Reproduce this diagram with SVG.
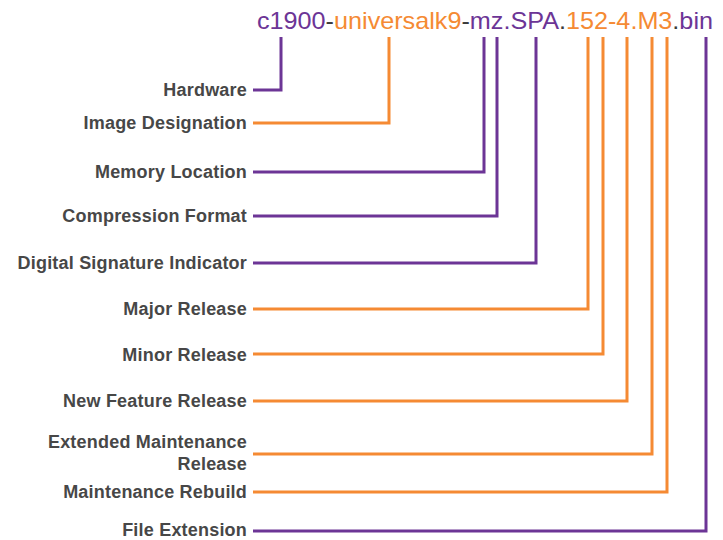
<svg xmlns="http://www.w3.org/2000/svg" width="723" height="540" viewBox="0 0 723 540">
<style>
.lbl{font-family:"Liberation Sans",Arial,sans-serif;font-weight:bold;font-size:18px;letter-spacing:0.2px;fill:#474747;text-anchor:end}
.ttl{font-family:"Liberation Sans",Arial,sans-serif;font-size:24px}
.p{fill:#6c3596}.o{fill:#f58a33}.d{fill:#3a3a3a}
.cp{fill:none;stroke:#6c3596;stroke-width:3}
.co{fill:none;stroke:#f58a33;stroke-width:3}
</style>
<rect width="723" height="540" fill="#ffffff"/>
<g id="title">
<text class="ttl" x="257" y="29" textLength="456" lengthAdjust="spacingAndGlyphs"><tspan class="p">c1900</tspan><tspan class="d">-</tspan><tspan class="o">universalk9</tspan><tspan class="d">-</tspan><tspan class="p">mz.SPA</tspan><tspan class="d">.</tspan><tspan class="o">152-4.M3</tspan><tspan class="d">.</tspan><tspan class="p">bin</tspan></text>
</g>
<g id="connectors">
<polyline class="cp" points="253,90 281,90 281,37"/>
<polyline class="co" points="253,123 389,123 389,37"/>
<polyline class="cp" points="253,172 484,172 484,37"/>
<polyline class="cp" points="253,216 497,216 497,37"/>
<polyline class="cp" points="253,263 536,263 536,37"/>
<polyline class="co" points="253,309 588,309 588,37"/>
<polyline class="co" points="253,354 603,354 603,37"/>
<polyline class="co" points="253,401 627,401 627,37"/>
<polyline class="co" points="253,454 652,454 652,37"/>
<polyline class="co" points="253,492 667,492 667,37"/>
<polyline class="cp" points="253,531 706,531 706,37"/>
</g>
<g id="hardware"><text class="lbl" x="247" y="96">Hardware</text></g>
<g id="image-designation"><text class="lbl" x="247" y="129">Image Designation</text></g>
<g id="memory-location"><text class="lbl" x="247" y="178">Memory Location</text></g>
<g id="compression-format"><text class="lbl" x="247" y="222">Compression Format</text></g>
<g id="digital-signature"><text class="lbl" x="247" y="269">Digital Signature Indicator</text></g>
<g id="major-release"><text class="lbl" x="247" y="315">Major Release</text></g>
<g id="minor-release"><text class="lbl" x="247" y="361">Minor Release</text></g>
<g id="new-feature-release"><text class="lbl" x="247" y="407">New Feature Release</text></g>
<g id="extended-maintenance-release"><text class="lbl" x="247" y="448">Extended Maintenance</text><text class="lbl" x="247" y="470">Release</text></g>
<g id="maintenance-rebuild"><text class="lbl" x="247" y="498">Maintenance Rebuild</text></g>
<g id="file-extension"><text class="lbl" x="247" y="536">File Extension</text></g>
</svg>
